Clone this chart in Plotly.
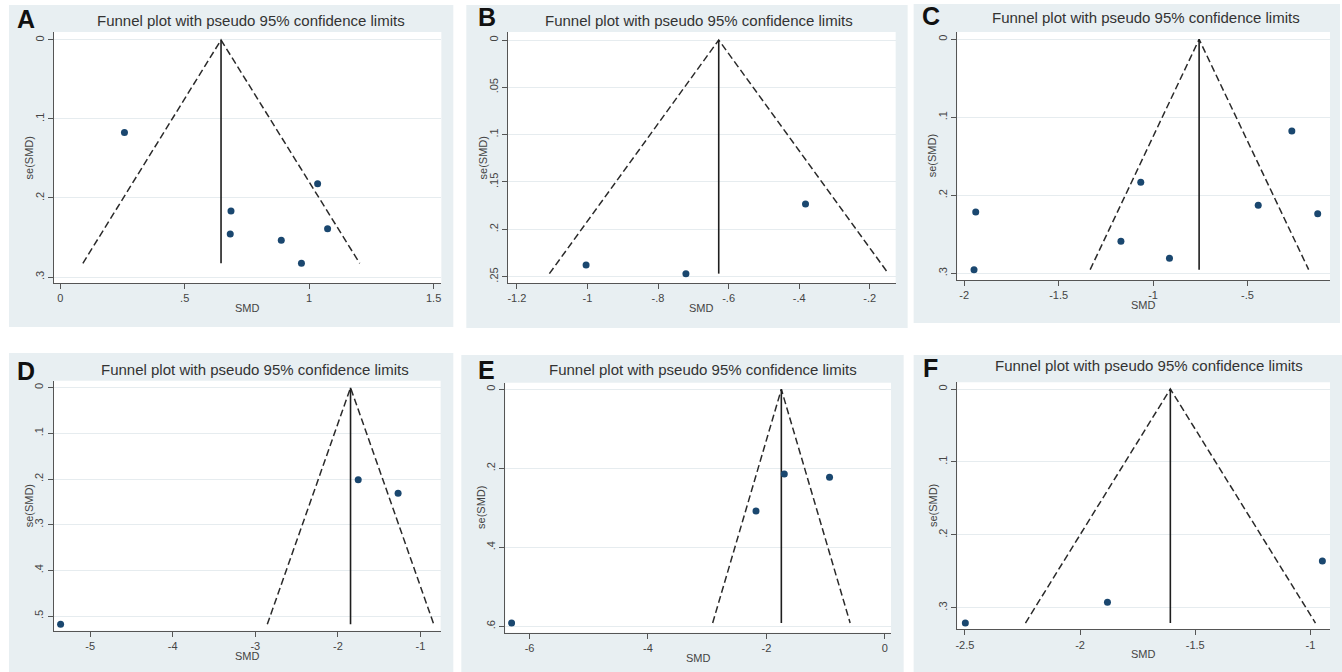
import plotly.graph_objects as go

W, H = 1342, 672
FONT = "Liberation Sans, Arial, Helvetica, sans-serif"

# ---------------- data ----------------
panel_labels = ["A", "B", "C", "D", "E", "F"]
chart_title = "Funnel plot with pseudo 95% confidence limits"
x_title = "SMD"
y_title = "se(SMD)"

smd_A = [0.258, 1.034, 0.686, 1.074, 0.683, 0.888, 0.969]
se_A = [0.117, 0.182, 0.2165, 0.239, 0.2456, 0.2536, 0.2827]
pooled_A = 0.646
funnel_A = [0.091, 1.203]

smd_B = [-1.004, -0.721, -0.382]
se_B = [0.2377, 0.2468, 0.1732]
pooled_B = -0.628
funnel_B = [-1.108, -0.147]

smd_C = [-1.939, -1.948, -1.065, -1.170, -0.913, -0.265, -0.443, -0.128]
se_C = [0.2214, 0.2953, 0.1833, 0.2590, 0.2808, 0.1175, 0.2128, 0.2235]
pooled_C = -0.756
funnel_C = [-1.333, -0.176]

smd_D = [-5.358, -1.754, -1.271]
se_D = [0.518, 0.2015, 0.2313]
pooled_D = -1.847
funnel_D = [-2.855, -0.839]

smd_E = [-6.303, -1.697, -0.933, -2.175]
se_E = [0.5916, 0.2144, 0.2228, 0.308]
pooled_E = -1.747
funnel_E = [-2.907, -0.585]

smd_F = [-2.498, -1.881, -0.948]
se_F = [0.321, 0.2926, 0.2359]
pooled_F = -1.608
funnel_F = [-2.237, -0.978]

xticks_A = [0, 0.5, 1, 1.5]
xlabels_A = ["0", ".5", "1", "1.5"]
yticks_A = [0, 0.1, 0.2, 0.3]
ylabels_A = ["0", ".1", ".2", ".3"]

xticks_B = [-1.2, -1.0, -0.8, -0.6, -0.4, -0.2]
xlabels_B = ["-1.2", "-1", "-.8", "-.6", "-.4", "-.2"]
yticks_B = [0, 0.05, 0.1, 0.15, 0.2, 0.25]
ylabels_B = ["0", ".05", ".1", ".15", ".2", ".25"]

xticks_C = [-2, -1.5, -1, -0.5, 0]
xlabels_C = ["-2", "-1.5", "-1", "-.5", "0"]
yticks_C = [0, 0.1, 0.2, 0.3]
ylabels_C = ["0", ".1", ".2", ".3"]

xticks_D = [-5, -4, -3, -2, -1]
xlabels_D = ["-5", "-4", "-3", "-2", "-1"]
yticks_D = [0, 0.1, 0.2, 0.3, 0.4, 0.5]
ylabels_D = ["0", ".1", ".2", ".3", ".4", ".5"]

xticks_E = [-6, -4, -2, 0]
xlabels_E = ["-6", "-4", "-2", "0"]
yticks_E = [0, 0.2, 0.4, 0.6]
ylabels_E = ["0", ".2", ".4", ".6"]

xticks_F = [-2.5, -2, -1.5, -1]
xlabels_F = ["-2.5", "-2", "-1.5", "-1"]
yticks_F = [0, 0.1, 0.2, 0.3]
ylabels_F = ["0", ".1", ".2", ".3"]

# ---------------- layout geometry (pixels) ----------------
geom = {
    "A": dict(box=(7, 5, 452, 327), plot=(52, 32, 440, 283),
              xr=(-0.0253, 1.531), yr=(0.3076, -0.0101), letter=(24, 19), title=(249, 20.5)),
    "B": dict(box=(465, 5, 907, 328), plot=(506.7, 32, 895, 283),
              xr=(-1.2255, -0.1264), yr=(0.2567, -0.00845), letter=(486, 17.5), title=(698, 20.5)),
    "C": dict(box=(913, 4, 1340, 323), plot=(956.7, 32, 1330, 280),
              xr=(-2.0367, -0.0628), yr=(0.3086, -0.0094), letter=(930, 16.5), title=(1146, 17.5)),
    "D": dict(box=(7, 353, 452, 672), plot=(51.7, 380.7, 439.3, 630.7),
              xr=(-5.4426, -0.7557), yr=(0.532, -0.0153), letter=(24, 371), title=(253, 369)),
    "E": dict(box=(460, 355, 903, 672), plot=(504, 382.7, 890.3, 632.7),
              xr=(-6.41, 0.1046), yr=(0.6162, -0.0167), letter=(485, 370), title=(702, 369)),
    "F": dict(box=(913, 355, 1342, 672), plot=(956.7, 382.3, 1330, 629.3),
              xr=(-2.533, -0.9148), yr=(0.3296, -0.0092), letter=(929.5, 367.5), title=(1149, 366)),
}

panels = {
    "A": (smd_A, se_A, pooled_A, funnel_A, xticks_A, xlabels_A, yticks_A, ylabels_A),
    "B": (smd_B, se_B, pooled_B, funnel_B, xticks_B, xlabels_B, yticks_B, ylabels_B),
    "C": (smd_C, se_C, pooled_C, funnel_C, xticks_C, xlabels_C, yticks_C, ylabels_C),
    "D": (smd_D, se_D, pooled_D, funnel_D, xticks_D, xlabels_D, yticks_D, ylabels_D),
    "E": (smd_E, se_E, pooled_E, funnel_E, xticks_E, xlabels_E, yticks_E, ylabels_E),
    "F": (smd_F, se_F, pooled_F, funnel_F, xticks_F, xlabels_F, yticks_F, ylabels_F),
}


def px(x):
    return x / W


def py(y):
    return 1 - y / H


fig = go.Figure()
layout = {}
shapes = []
annotations = []

for i, lab in enumerate(panel_labels):
    smd, se, pooled, funnel, xt, xl, yt, yl = panels[lab]
    g = geom[lab]
    sfx = "" if i == 0 else str(i + 1)
    xa, ya = "x" + sfx, "y" + sfx
    semax = max(se)

    fig.add_trace(go.Scatter(
        x=[funnel[0], pooled, funnel[1]], y=[semax, 0, semax],
        mode="lines", line=dict(color="#2a2a2a", width=1.5, dash="7px,3.5px"),
        xaxis=xa, yaxis=ya, hoverinfo="skip", showlegend=False))
    fig.add_trace(go.Scatter(
        x=[pooled, pooled], y=[0, semax],
        mode="lines", line=dict(color="#1e1e1e", width=1.6),
        xaxis=xa, yaxis=ya, hoverinfo="skip", showlegend=False))
    fig.add_trace(go.Scatter(
        x=smd, y=se, mode="markers",
        marker=dict(color="#1A476F", size=7),
        xaxis=xa, yaxis=ya, showlegend=False))

    x0, y0, x1, y1 = g["plot"]
    layout["xaxis" + sfx] = dict(
        domain=[px(x0), px(x1)], range=list(g["xr"]), anchor=ya,
        tickmode="array", tickvals=xt, ticktext=xl,
        showline=True, linecolor="#555555", linewidth=1,
        ticks="outside", ticklen=5, tickcolor="#555555", tickwidth=1,
        showgrid=False, zeroline=False,
        tickfont=dict(family=FONT, size=11, color="#444444"))
    layout["yaxis" + sfx] = dict(
        domain=[py(y1), py(y0)], range=list(g["yr"]), anchor=xa,
        tickmode="array", tickvals=yt, ticktext=yl, tickangle=-90,
        showline=True, linecolor="#555555", linewidth=1,
        ticks="outside", ticklen=5, tickcolor="#555555", tickwidth=1,
        showgrid=True, gridcolor="#e6ecef", gridwidth=1, zeroline=False,
        tickfont=dict(family=FONT, size=11, color="#444444"))

    bx0, by0, bx1, by1 = g["box"]
    shapes.append(dict(type="rect", xref="paper", yref="paper",
                       x0=px(bx0), x1=px(bx1), y0=py(by1), y1=py(by0),
                       fillcolor="#e8eff2", line=dict(width=0), layer="below"))
    shapes.append(dict(type="rect", xref="paper", yref="paper",
                       x0=px(x0), x1=px(x1), y0=py(y1), y1=py(y0),
                       fillcolor="#ffffff", line=dict(width=0), layer="below"))

    lx, ly = g["letter"]
    annotations.append(dict(text="<b>" + lab + "</b>", xref="paper", yref="paper",
                            x=px(lx), y=py(ly), xanchor="center", yanchor="middle",
                            showarrow=False, font=dict(family=FONT, size=25, color="#111111")))
    tx, ty = g["title"]
    annotations.append(dict(text=chart_title, xref="paper", yref="paper",
                            x=px(tx), y=py(ty), xanchor="center", yanchor="middle",
                            showarrow=False, font=dict(family=FONT, size=15, color="#333333")))
    annotations.append(dict(text=x_title, xref="paper", yref="paper",
                            x=px((x0 + x1) / 2), y=py(y1 + 25), xanchor="center", yanchor="middle",
                            showarrow=False, font=dict(family=FONT, size=11, color="#444444")))
    annotations.append(dict(text=y_title, xref="paper", yref="paper",
                            x=px(x0 - 25), y=py((y0 + y1) / 2), xanchor="center", yanchor="middle",
                            textangle=-90,
                            showarrow=False, font=dict(family=FONT, size=11, color="#444444")))

fig.update_layout(
    width=W, height=H,
    margin=dict(l=0, r=0, t=0, b=0),
    paper_bgcolor="white", plot_bgcolor="white",
    showlegend=False,
    shapes=shapes, annotations=annotations,
    font=dict(family=FONT),
    **layout)

fig.write_html("out.html", config={"displayModeBar": False},
               post_script="document.body.style.margin='0';document.body.style.overflow='hidden';")
